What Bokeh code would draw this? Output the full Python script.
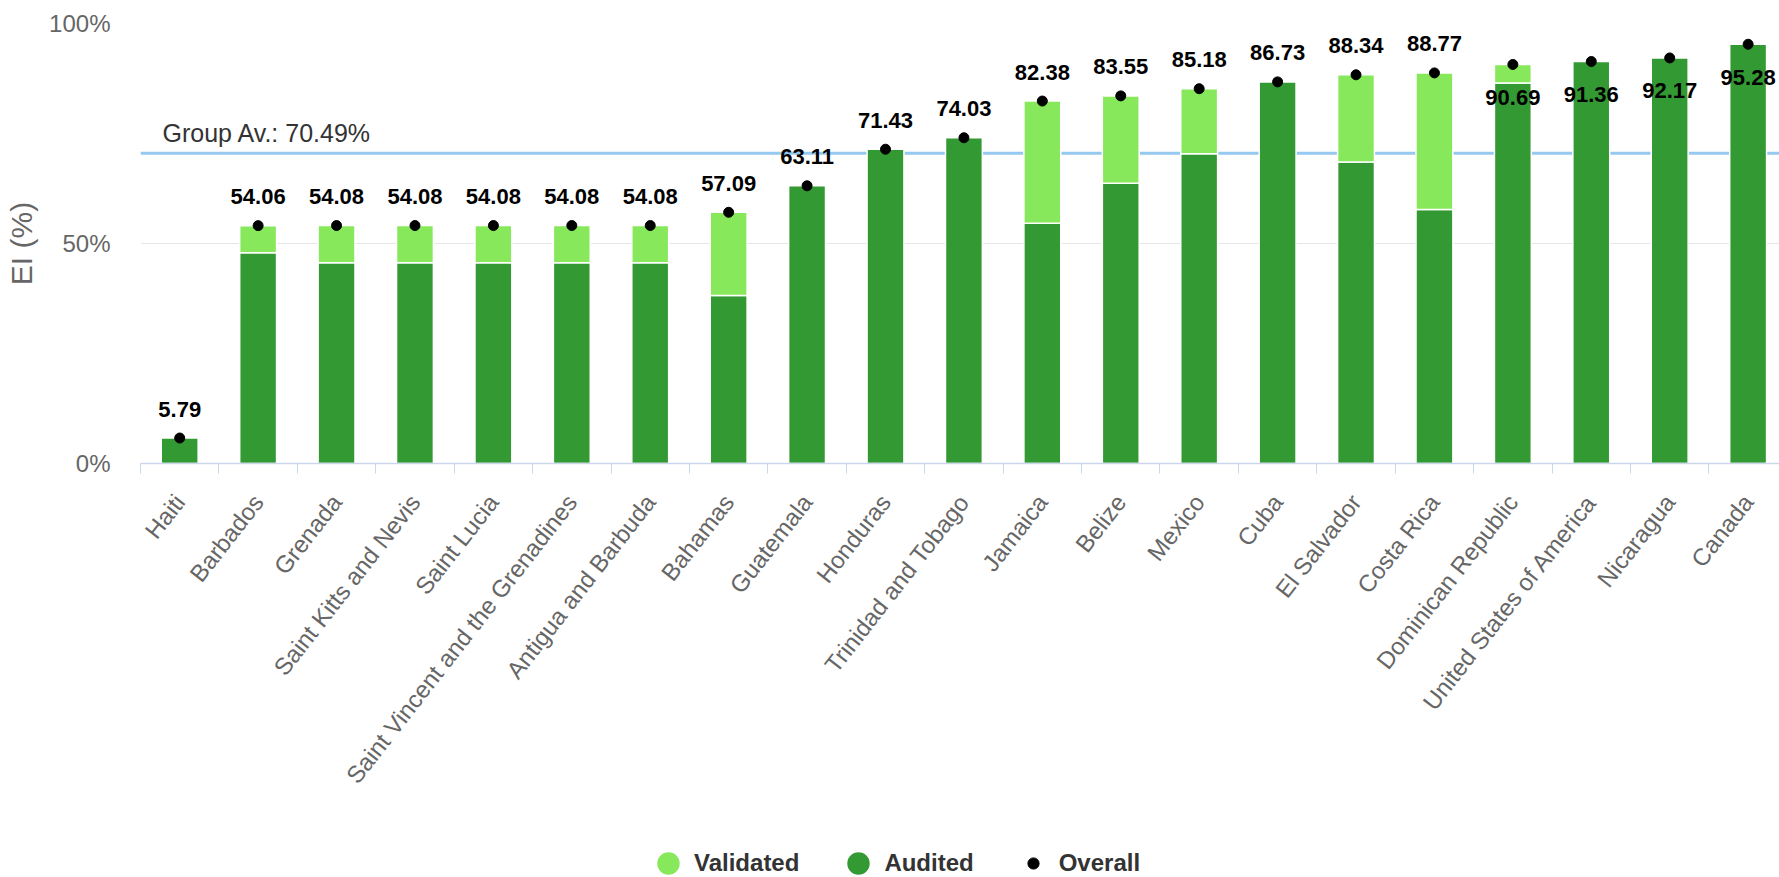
from bokeh.plotting import figure
from bokeh.layouts import column
from bokeh.models import ColumnDataSource, Range1d, FixedTicker, Span, Label, Legend, LegendItem
from bokeh.core.properties import value
from bokeh.embed import file_html
from bokeh.resources import INLINE

# ---- data -------------------------------------------------------------
countries = ["Haiti", "Barbados", "Grenada", "Saint Kitts and Nevis", "Saint Lucia",
             "Saint Vincent and the Grenadines", "Antigua and Barbuda", "Bahamas",
             "Guatemala", "Honduras", "Trinidad and Tobago", "Jamaica", "Belize",
             "Mexico", "Cuba", "El Salvador", "Costa Rica", "Dominican Republic",
             "United States of America", "Nicaragua", "Canada"]
overall = [5.79, 54.06, 54.08, 54.08, 54.08, 54.08, 54.08, 57.09, 63.11, 71.43, 74.03,
           82.38, 83.55, 85.18, 86.73, 88.34, 88.77, 90.69, 91.36, 92.17, 95.28]
audited = [5.79, 47.90, 45.60, 45.60, 45.60, 45.60, 45.60, 38.20, 63.11, 71.43, 74.03,
           54.60, 63.70, 70.40, 86.73, 68.50, 57.70, 86.50, 91.36, 92.17, 95.28]
validated = [0.00, 6.16, 8.48, 8.48, 8.48, 8.48, 8.48, 18.89, 0.00, 0.00, 0.00,
             27.78, 19.85, 14.78, 0.00, 19.84, 31.07, 4.19, 0.00, 0.00, 0.00]
group_avg = 70.49
group_avg_label = "Group Av.: 70.49%"
y_ticks = [0, 50, 100]
y_tick_labels = ["0%", "50%", "100%"]
series_names = ["Validated", "Audited", "Overall"]
y_title = "EI (%)"

# ---- styles -----------------------------------------------------------
FONT = "Liberation Sans, Arial, sans-serif"
C_VAL = "#86e85a"
C_AUD = "#339933"
C_AVG = "#95c9f0"

n = len(countries)
xs = list(range(n))
val_top = [a + v for a, v in zip(audited, validated)]
val_line = ["white" if v > 0 else "rgba(0,0,0,0)" for v in validated]
label_txt = [f"{o:.2f}" for o in overall]
label_off = [33 if o > 89.5 else -29 for o in overall]

src = ColumnDataSource(dict(x=xs, overall=overall, audited=audited, vb=audited,
                            vt=val_top, vline=val_line, txt=label_txt, off=label_off))

W = 1779
H_MAIN = 820
H_LEG = 877 - H_MAIN

p = figure(width=W, height=H_MAIN, output_backend="svg", toolbar_location=None,
           x_range=Range1d(-0.5, 20.4), y_range=Range1d(0, 100),
           min_border_left=140, min_border_right=0, min_border_top=23,
           min_border_bottom=H_MAIN - 463)
p.outline_line_color = None
p.background_fill_color = "white"
p.border_fill_color = "white"

# group average line
p.add_layout(Span(location=group_avg, dimension="width", line_color=C_AVG,
                  line_width=3, level="underlay"))
p.add_layout(Label(x=-0.5, y=group_avg, x_offset=22, y_offset=6, text=group_avg_label,
                   text_font=FONT, text_font_size="25px", text_color="#333333",
                   text_baseline="bottom"))

# bars
p.vbar(x="x", bottom=0, top="audited", width=0.47, source=src,
       fill_color=C_AUD, line_color="white", line_width=1.5)
p.vbar(x="x", bottom="vb", top="vt", width=0.47, source=src,
       fill_color=C_VAL, line_color="vline", line_width=1.5)

# overall dots
p.scatter(x="x", y="overall", size=10, fill_color="black", line_color="black", source=src)

# data labels
p.text(x="x", y="overall", text="txt", y_offset="off", source=src,
       text_align="center", text_baseline="middle", text_font=value(FONT),
       text_font_size="22px", text_font_style="bold", text_color="black")

# axes
p.xgrid.visible = False
p.ygrid.ticker = FixedTicker(ticks=y_ticks)
p.ygrid.grid_line_color = "#e6e6e6"
p.ygrid.grid_line_width = 1

yax = p.yaxis[0]
yax.ticker = FixedTicker(ticks=y_ticks)
yax.major_label_overrides = {t: l for t, l in zip(y_ticks, y_tick_labels)}
yax.axis_line_color = None
yax.major_tick_line_color = None
yax.minor_tick_line_color = None
yax.major_tick_out = 0
yax.major_label_standoff = 30
yax.major_label_text_font = FONT
yax.major_label_text_font_size = "24px"
yax.major_label_text_color = "#666666"
yax.axis_label = y_title
yax.axis_label_text_font = FONT
yax.axis_label_text_font_size = "30px"
yax.axis_label_text_font_style = "normal"
yax.axis_label_text_color = "#666666"
yax.axis_label_standoff = 8

xax = p.xaxis[0]
xax.ticker = FixedTicker(ticks=xs, minor_ticks=[i - 0.5 for i in range(n + 1)])
xax.major_label_overrides = {i: c for i, c in zip(xs, countries)}
xax.major_label_orientation = 0.908
xax.major_label_standoff = 24
xax.major_label_text_font = FONT
xax.major_label_text_font_size = "24px"
xax.major_label_text_color = "#666666"
xax.axis_line_color = "#ccd6eb"
xax.axis_line_width = 1.5
xax.major_tick_in = 0
xax.major_tick_out = 0
xax.minor_tick_in = 0
xax.minor_tick_out = 10
xax.minor_tick_line_color = "#ccd6eb"
xax.minor_tick_line_width = 1

# ---- legend strip --------------------------------------------------------
lf = figure(width=W, height=H_LEG, output_backend="svg", toolbar_location=None,
            x_range=Range1d(-0.5, 20.4), y_range=Range1d(200, 300),
            x_axis_location=None, y_axis_location=None,
            min_border_left=0, min_border_right=0, min_border_top=0, min_border_bottom=0)
lf.outline_line_color = None
lf.grid.visible = False
# proxies (outside the visible range: only their legend icons show)
pv = lf.ellipse(x="x", y="overall", width=1, height=1, width_units="screen",
                height_units="screen", fill_color=C_VAL, line_color=None, source=src)
pa = lf.ellipse(x="x", y="overall", width=1, height=1, width_units="screen",
                height_units="screen", fill_color=C_AUD, line_color=None, source=src)
po = lf.scatter(x="x", y="overall", size=10, fill_color="black", line_color="black",
                source=src)

leg = Legend(items=[LegendItem(label=series_names[0], renderers=[pv]),
                    LegendItem(label=series_names[1], renderers=[pa]),
                    LegendItem(label=series_names[2], renderers=[po])],
             location=(514, 0), orientation="horizontal",
             glyph_width=28, glyph_height=28, label_standoff=12, spacing=45,
             padding=0, margin=0, border_line_color=None, background_fill_alpha=0,
             label_text_font=FONT, label_text_font_size="24px",
             label_text_font_style="bold", label_text_color="#333333",
             click_policy="none")
lf.add_layout(leg, "center")

layout = column(p, lf, spacing=0)
open("out.html", "w").write(file_html(layout, INLINE))
